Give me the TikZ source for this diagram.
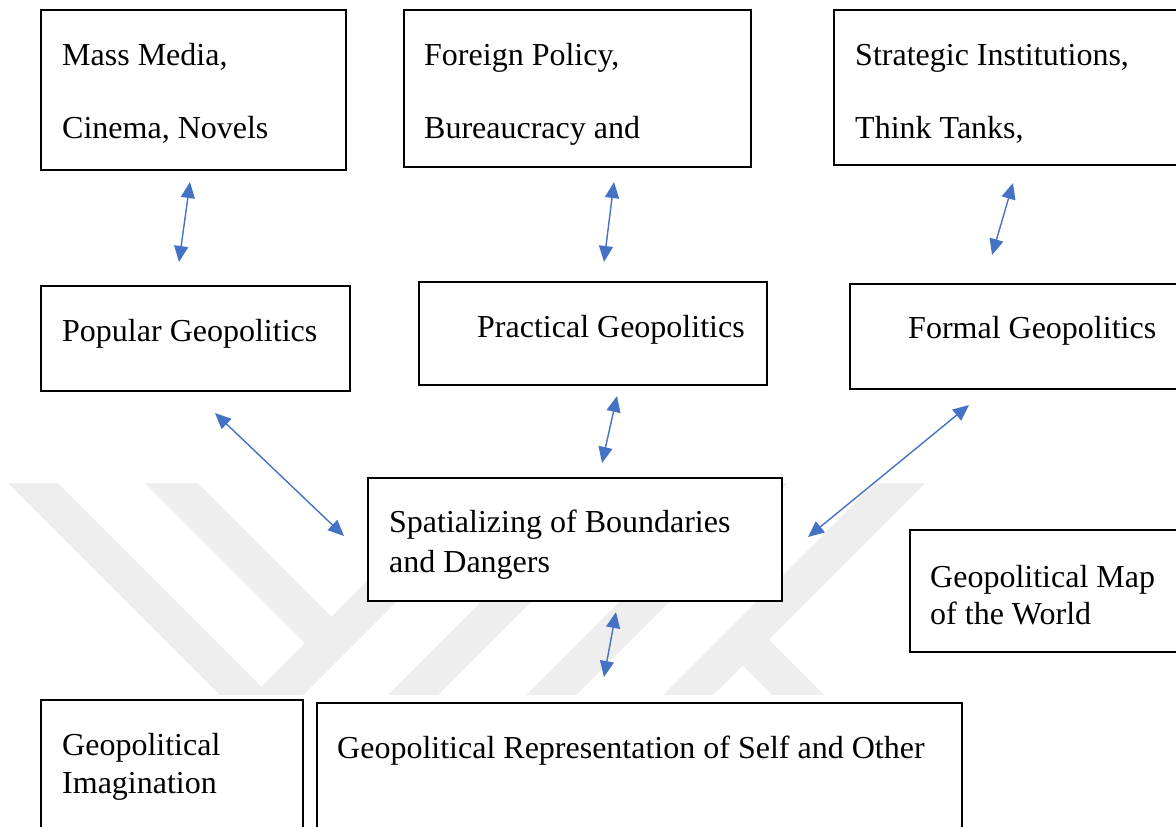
\documentclass[tikz,border=0pt]{standalone}
\usepackage{fontspec}
\setmainfont{Liberation Serif}
\usetikzlibrary{arrows.meta}
\definecolor{linkblue}{HTML}{4472C4}
\definecolor{markgray}{RGB}{238,238,238}
\begin{document}
\begin{tikzpicture}[x=1pt,y=-1pt,
  box/.style={draw=black, line width=1.7pt, fill=white, rectangle, inner sep=0pt, anchor=north west},
  txt/.style={anchor=base west, inner sep=0pt, font=\fontsize{32}{38}\selectfont},
  link/.style={draw=linkblue, line width=1.4pt,
    {Triangle[length=16pt,width=14pt]}-{Triangle[length=16pt,width=14pt]}},
  emblem/.style={fill=markgray, draw=none}
]
\useasboundingbox (0,0) rectangle (1176,827);
\clip (0,0) rectangle (1176,827);
\fill[white] (0,0) rectangle (1176,827);

% faint background emblem: diagonal bands cut to a horizontal strip
\begin{scope}
  \clip (0,483) rectangle (1176,694);
  \fill[emblem] (8,483) -- (58,483) -- (261.5,686.5) -- (465,483) -- (515,483) -- (261.5,736.5) -- cycle;
  \fill[emblem] (145,483) -- (198,483) -- (331.5,616.5) -- (305,643) -- cycle;
  \fill[emblem] (600,483) -- (650,483) -- (413,720) -- (363,720) -- cycle;
  \fill[emblem] (738,483) -- (788,483) -- (551,720) -- (501,720) -- cycle;
  \fill[emblem] (875,483) -- (925,483) -- (688,720) -- (638,720) -- cycle;
  \fill[emblem] (742.5,665.5) -- (768.5,639.5) -- (849,720) -- (797,720) -- cycle;
\end{scope}

% boxes
\node[box, minimum width=305pt, minimum height=160pt] (massbox) at (40,9) {};
\node[box, minimum width=347pt, minimum height=157pt] (foreignbox) at (403,9) {};
\node[box, minimum width=400pt, minimum height=155pt] (strategicbox) at (833,9) {};
\node[box, minimum width=309pt, minimum height=105pt] (popularbox) at (40,285) {};
\node[box, minimum width=348pt, minimum height=103pt] (practicalbox) at (418,281) {};
\node[box, minimum width=400pt, minimum height=105pt] (formalbox) at (849,283) {};
\node[box, minimum width=414pt, minimum height=123pt] (spatialbox) at (367,477) {};
\node[box, minimum width=300pt, minimum height=122pt] (mapbox) at (909,529) {};
\node[box, minimum width=262pt, minimum height=200pt] (imagbox) at (40,699) {};
\node[box, minimum width=645pt, minimum height=200pt] (reprbox) at (316,702) {};

% texts
\node[txt] (massA) at (62,65) {Mass Media,};
\node[txt] (massB) at (62,138) {Cinema, Novels};
\node[txt] (foreignA) at (424,65) {Foreign Policy,};
\node[txt] (foreignB) at (424,138) {Bureaucracy and};
\node[txt] (strategicA) at (855,65) {Strategic Institutions,};
\node[txt] (strategicB) at (855,138) {Think Tanks,};
\node[txt] (popular) at (62,341) {Popular Geopolitics};
\node[txt] (practical) at (477,337) {Practical Geopolitics};
\node[txt] (formal) at (908,338) {Formal Geopolitics};
\node[txt] (spatialA) at (389,532) {Spatializing of Boundaries};
\node[txt] (spatialB) at (389,572) {and Dangers};
\node[txt] (mapA) at (930,587) {Geopolitical Map};
\node[txt] (mapB) at (930,624) {of the World};
\node[txt] (imagA) at (62,755) {Geopolitical};
\node[txt] (imagB) at (62,793) {Imagination};
\node[txt] (repr) at (337,758) {Geopolitical Representation of Self and Other};

% connector ends
\coordinate (a1) at (190,182); \coordinate (a2) at (179,262);
\coordinate (b1) at (614,182); \coordinate (b2) at (604,262);
\coordinate (c1) at (1013,183); \coordinate (c2) at (992,255);
\coordinate (d1) at (215,413); \coordinate (d2) at (344,536);
\coordinate (e1) at (617,396); \coordinate (e2) at (602,463);
\coordinate (f1) at (969,405); \coordinate (f2) at (808,537);
\coordinate (g1) at (616,612); \coordinate (g2) at (604,677);

\draw[link] (a1) -- (a2);
\draw[link] (b1) -- (b2);
\draw[link] (c1) -- (c2);
\draw[link] (d1) -- (d2);
\draw[link] (e1) -- (e2);
\draw[link] (f1) -- (f2);
\draw[link] (g1) -- (g2);
\end{tikzpicture}
\end{document}
